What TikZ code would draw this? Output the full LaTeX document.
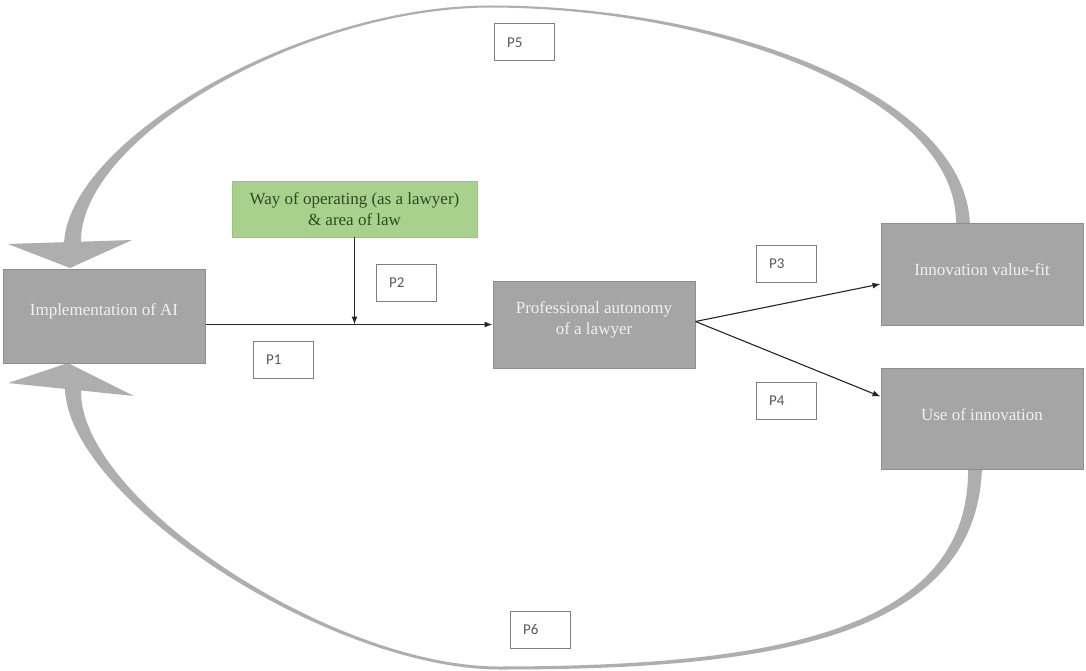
\documentclass[tikz,border=0pt]{standalone}
\usepackage{fontspec}
\setmainfont{Liberation Serif}
\newfontfamily\labelfont{Carlito}
\usetikzlibrary{arrows.meta}
\definecolor{boxgray}{HTML}{A5A5A5}
\definecolor{boxedge}{HTML}{8E8E8E}
\definecolor{loopgray}{HTML}{AEAEAE}
\definecolor{modgreen}{HTML}{A9D18E}
\definecolor{modedge}{HTML}{9BC47E}
\definecolor{modtext}{HTML}{2F4A20}
\definecolor{plabeledge}{HTML}{7F7F7F}
\definecolor{plabeltext}{HTML}{595959}
\definecolor{linkcol}{HTML}{262626}
\begin{document}
\begin{tikzpicture}[x=1pt,y=-1pt,
  conceptbox/.style={draw=boxedge, line width=1pt, fill=boxgray, minimum width=202pt, inner sep=0pt},
  concepttext/.style={text=white!94!black, font=\fontsize{17}{21}\selectfont, align=center, inner sep=0pt},
  modbox/.style={draw=modedge, line width=0.8pt, fill=modgreen, minimum width=245pt, minimum height=56pt, inner sep=0pt,
    text=modtext, font=\fontsize{17}{21}\selectfont, align=center},
  pbox/.style={draw=plabeledge, line width=1pt, fill=white, text width=34pt, inner xsep=13pt, inner ysep=0pt,
    minimum height=37pt, align=left, font=\labelfont\fontsize{15}{18}\selectfont, text=plabeltext},
  link/.style={draw=linkcol, line width=1.1pt, -{Latex[length=8pt,width=6pt]}},
  loop/.style={fill=loopgray}
]
\useasboundingbox (0,0) rectangle (1086,671);
\fill[white] (0,0) rectangle (1086,671);

% feedback loop over the top (P5): band thin at the crest, wide at both ends
\fill[loop] (970,226) .. controls (967,92) and (720,5.5) .. (490,5.5)
  .. controls (300,5.5) and (68,140) .. (64,244)
  -- (81,244) .. controls (77,140) and (300,8.5) .. (490,7.5)
  .. controls (720,8) and (960,98) .. (956,226) -- cycle;
\fill[loop] (8,244) -- (132,240) -- (70,268) -- cycle;

% feedback loop under the bottom (P6)
\fill[loop] (982,466) .. controls (978,642) and (760,669.5) .. (500,669.5)
  .. controls (330,669.5) and (69,500) .. (65,389)
  -- (81,389) .. controls (77,497) and (330,667) .. (500,666.5)
  .. controls (760,666) and (972,636) .. (968,466) -- cycle;
\fill[loop] (8,383) -- (134,396) -- (68,363) -- cycle;

% concept boxes
\node[conceptbox, minimum height=94pt]  (impl) at (104,316)   {};
\node[conceptbox, minimum height=87pt]  (prof) at (594,324.5) {};
\node[conceptbox, minimum height=102pt] (fit)  at (982,274)   {};
\node[conceptbox, minimum height=101pt] (use)  at (982,418.5) {};
\node[concepttext] (implT) at ([yshift=5pt]impl.center) {Implementation of AI};
\node[concepttext] (profT) at ([yshift=5pt]prof.center) {Professional autonomy\\of a lawyer};
\node[concepttext] (fitT)  at ([yshift=4pt]fit.center)  {Innovation value-fit};
\node[concepttext] (useT)  at ([yshift=4pt]use.center)  {Use of innovation};

% moderator
\node[modbox] (mod) at (354.5,209) {Way of operating (as a lawyer)\\\& area of law};

% proposition labels
\node[pbox] (p1) at (283,360)   {P1};
\node[pbox] (p2) at (406,283)   {P2};
\node[pbox] (p3) at (786,263.5) {P3};
\node[pbox] (p4) at (786,400.5) {P4};
\node[pbox] (p5) at (524,42.5)  {P5};
\node[pbox] (p6) at (540,629.5) {P6};

% relations
\coordinate (start) at (impl.east |- prof.west);
\coordinate (hit) at (mod.south |- prof.west);
\draw[link] (start) -- (prof.west);
\draw[link] (mod.south) -- (hit);
\draw[link] ([yshift=3pt]prof.east) -- ([yshift=-10pt]fit.west);
\draw[link] ([yshift=3pt]prof.east) -- ([yshift=22pt]use.west);
\end{tikzpicture}
\end{document}
